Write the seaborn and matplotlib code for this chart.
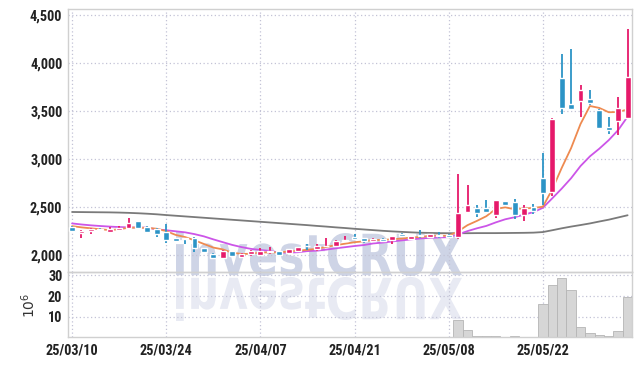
import numpy as np
import pandas as pd
import matplotlib
matplotlib.use("Agg")
import matplotlib.pyplot as plt
import matplotlib.font_manager as fm
import seaborn as sns
from matplotlib.textpath import TextPath
from matplotlib.patches import PathPatch
from matplotlib.font_manager import FontProperties
from matplotlib.transforms import Affine2D

# x axis labels (trading-day index -> date)
tick_pos = [0, 10, 20, 30, 40, 50]
tick_labels = ["25/03/10", "25/03/24", "25/04/07", "25/04/21", "25/05/08", "25/05/22"]

# daily OHLC
opens = [2300, 2235, 2258, 2270, 2245, 2268, 2282, 2355, 2300, 2280,
         2240, 2180, 2178, 2185, 2072, 2015, 1978, 2045, 1983, 2012,
         2005, 2035, 2045, 2028, 2045, 2100, 2063, 2095, 2097, 2150,
         2190, 2177, 2145, 2175, 2157, 2228, 2175, 2210, 2192, 2215,
         2215, 2195, 2452, 2490, 2490, 2418, 2565, 2552, 2420, 2503,
         2802, 2665, 3843, 3578, 3610, 3625, 3514, 3333, 3400, 3427]
highs = [2310, 2260, 2282, 2290, 2300, 2310, 2393, 2357, 2305, 2290,
         2330, 2185, 2180, 2190, 2075, 2020, 2055, 2050, 2020, 2060,
         2080, 2087, 2050, 2065, 2090, 2115, 2115, 2184, 2165, 2200,
         2219, 2180, 2178, 2180, 2205, 2230, 2205, 2260, 2225, 2240,
         2225, 2850, 2735, 2528, 2576, 2575, 2570, 2583, 2521, 2538,
         3062, 3430, 4094, 4145, 3770, 3719, 3520, 3445, 3649, 4354]
lows = [2240, 2185, 2220, 2250, 2240, 2265, 2278, 2278, 2245, 2192,
        2132, 2140, 2115, 2040, 2030, 1975, 1975, 1990, 1980, 1990,
        2000, 2010, 2000, 2025, 2040, 2052, 2045, 2085, 2095, 2143,
        2165, 2125, 2140, 2145, 2122, 2200, 2170, 2180, 2185, 2180,
        2190, 2175, 2440, 2395, 2437, 2393, 2515, 2375, 2357, 2430,
        2530, 2618, 3476, 3510, 3445, 3570, 3315, 3268, 3250, 3420]
closes = [2250, 2255, 2278, 2265, 2270, 2290, 2340, 2282, 2248, 2227,
          2165, 2145, 2170, 2080, 2035, 1978, 2050, 1995, 2018, 2043,
          2050, 2045, 2005, 2062, 2085, 2095, 2097, 2102, 2155, 2160,
          2172, 2145, 2175, 2150, 2200, 2206, 2200, 2200, 2218, 2205,
          2195, 2437, 2520, 2440, 2450, 2572, 2522, 2418, 2490, 2462,
          2645, 3425, 3530, 3525, 3718, 3582, 3323, 3306, 3538, 3854]

# volume in millions of shares
volume = [0.15] * 40 + [0.2, 8.3, 3.6, 0.7, 0.6, 0.7, 0.2, 0.7, 0.2, 0.2,
                        16.0, 25.4, 28.6, 22.8, 4.9, 2.2, 1.0, 0.6, 3.1, 19.4]

# moving-average values before enough closes exist
ma5_head = [2305, 2292, 2282, 2272]
ma10_head = [2333, 2322, 2313, 2306, 2300, 2295, 2292, 2290, 2289]
ma60 = [2452, 2451, 2450, 2449, 2448, 2446, 2443, 2439, 2434, 2428,
        2420, 2413, 2406, 2399, 2392, 2385, 2378, 2371, 2364, 2357,
        2350, 2343, 2336, 2329, 2322, 2315, 2307, 2300, 2292, 2285,
        2277, 2270, 2263, 2256, 2250, 2245, 2240, 2236, 2234, 2232,
        2231, 2231, 2231, 2232, 2232, 2232, 2233, 2234, 2235, 2237,
        2243, 2262, 2282, 2300, 2316, 2333, 2353, 2372, 2395, 2418]

UP = "#e6196a"
DOWN = "#2c94c6"

df = pd.DataFrame({"day": np.arange(len(closes)), "open": opens, "high": highs,
                   "low": lows, "close": closes, "volume": volume})
df["ma5"] = df["close"].rolling(5).mean()
df.loc[:3, "ma5"] = ma5_head
df["ma10"] = df["close"].rolling(10).mean()
df.loc[:8, "ma10"] = ma10_head
df["ma60"] = ma60

sns.set_style("white")

# pick a condensed face for tick labels if one is installed
installed = {f.name for f in fm.fontManager.ttflist}
tick_font = None
for cand in ["Roboto Condensed", "Liberation Sans Narrow", "Open Sans Condensed"]:
    if cand in installed:
        tick_font = FontProperties(family=cand, weight="bold", size=10.3)
        break
if tick_font is None:
    if any(f.name == "DejaVu Sans" and f.stretch == "condensed" for f in fm.fontManager.ttflist):
        tick_font = FontProperties(family="DejaVu Sans", stretch="condensed", weight="bold", size=9.3)
    else:
        tick_font = FontProperties(family="Liberation Sans", weight="bold", size=9.4)
plt.rcParams["font.family"] = ["Liberation Sans", "DejaVu Sans"]

fig = plt.figure(figsize=(6.42, 3.66), dpi=100)
ax = fig.add_axes([0.1064, 0.2555, 0.8785, 0.7199])
axv = fig.add_axes([0.1064, 0.0779, 0.8785, 0.1776], sharex=ax)

# watermark with reflection
fp = FontProperties(family="DejaVu Sans", weight="bold")
tp = TextPath((0, 0), "investCRUX", size=50, prop=fp)
ext = tp.get_extents()
sx = 286 / ext.width
sy = 44 / ext.height
top_tf = Affine2D().translate(-ext.x0, -ext.y0).scale(sx, sy).translate(176, 90)
bot_tf = Affine2D().translate(-ext.x0, -ext.y0).scale(sx, -sy).translate(176, 89)
fig.add_artist(PathPatch(tp, transform=top_tf, facecolor="#ced4e6", edgecolor="none", zorder=-1))
fig.add_artist(PathPatch(tp, transform=bot_tf, facecolor="#e8eaf3", edgecolor="none", zorder=-1))

for a in (ax, axv):
    a.set_facecolor("none")
    a.grid(True, linestyle=(0, (1, 2)), color="#c3c3d6", linewidth=0.9)
    for s in a.spines.values():
        s.set_color("#d0d0d0")
        s.set_linewidth(1.0)
    a.tick_params(length=0, labelcolor="#222222")

# moving averages
sns.lineplot(data=df, x="day", y="ma60", ax=ax, color="#7a7a7a", linewidth=1.3)
sns.lineplot(data=df, x="day", y="ma10", ax=ax, color="#cc55e8", linewidth=1.3)
sns.lineplot(data=df, x="day", y="ma5", ax=ax, color="#ee8a50", linewidth=1.3)

# candles
up = df["close"] >= df["open"]
colors = np.where(up, UP, DOWN)
ax.vlines(df["day"], df["low"], df["high"], colors=colors, linewidth=1.3, zorder=3)
body_lo = df[["open", "close"]].min(axis=1)
body_h = (df["close"] - df["open"]).abs().clip(lower=8)
ax.bar(df["day"], body_h, bottom=body_lo, width=0.62, color=colors, zorder=4)

price_ticks = [2000, 2500, 3000, 3500, 4000, 4500]
ax.set_ylim(1822, 4566)
ax.set_yticks(price_ticks)
ax.set_yticklabels([f"{v:,}" for v in price_ticks], fontproperties=tick_font)
ax.set_xlim(-0.4, 59.5)
ax.set_xlabel("")
ax.set_ylabel("")
ax.tick_params(axis="x", labelbottom=False)
ax.tick_params(axis="y", pad=4.3)

# volume
axv.bar(df["day"], df["volume"], width=1.0, color="#d6d6d6", edgecolor="#b5b5b5", linewidth=0.6)
axv.set_ylim(0, 31.4)
axv.set_yticks([10, 20, 30])
axv.set_yticklabels(["10", "20", "30"], fontproperties=tick_font)
axv.set_xticks(tick_pos)
axv.set_xticklabels(tick_labels, fontproperties=tick_font)
axv.tick_params(axis="y", pad=4.3)
axv.tick_params(axis="x", pad=4.5)
axv.set_ylabel(r"$10^6$", fontsize=10, color="#333333")
axv.yaxis.set_label_coords(-0.054, 0.5)

fig.savefig("out.png", dpi=100)
